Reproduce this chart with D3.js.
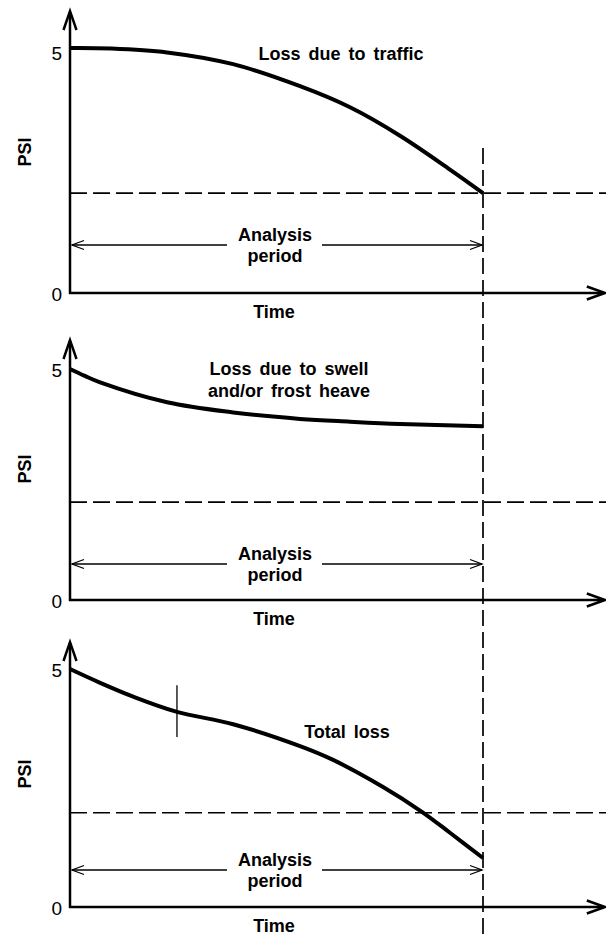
<!DOCTYPE html>
<html>
<head>
<meta charset="utf-8">
<script src="https://cdn.jsdelivr.net/npm/d3@7"></script>
<style>
  html, body { margin: 0; padding: 0; background: #fff; }
  svg text { font-family: "Liberation Sans", Arial, sans-serif; font-weight: bold; font-size: 18px; fill: #000; word-spacing: 3px; }
  svg text.tick { font-weight: normal; font-size: 19px; }
</style>
</head>
<body>
<svg id="chart" width="606" height="936"></svg>
<script>
// ---------------- data ----------------
const yTickValues = [0, 5];
const yTickLabels = ["0", "5"];
const analysisEnd = 10;          // end of analysis period (time units)
const timeAxisEnd = 12.95;       // extent of the time axis

const trafficTime = [0, 1, 2.35, 3.95, 5.57, 6.78, 7.99, 9.2, 10];
const trafficPSI  = [5.0, 4.99, 4.91, 4.67, 4.22, 3.79, 3.21, 2.52, 2.04];

const swellTime = [0, 0.36, 0.73, 2.35, 3.95, 5.57, 6.78, 7.99, 10];
const swellPSI  = [5.0, 4.85, 4.71, 4.28, 4.06, 3.92, 3.86, 3.81, 3.76];

const totalTime = [0, 0.73, 1.53, 2.59, 3.95, 5.57, 6.37, 7.58, 8.52, 9.2, 10];
const totalPSI  = [5.0, 4.71, 4.42, 4.10, 3.84, 3.38, 3.09, 2.52, 2.00, 1.56, 1.03];

const terminalPSI = [2.04, 2.12, 1.98];
const markTime = 2.59;
const markPSI = [4.66, 3.57];

const curveLabels = [["Loss due to traffic"], ["Loss due to swell", "and/or frost heave"], ["Total loss"]];
const axisTitleY = "PSI";
const axisTitleX = "Time";
const periodLabel = ["Analysis", "period"];

// ---------------- layout ----------------
const svg = d3.select("#chart");
const x = d3.scaleLinear().domain([0, analysisEnd]).range([70, 483]);

const panelRanges = [[293, 48], [600, 369], [907, 669]];
const axisTop = [11, 340, 642];
const arrowY = [245, 564, 870];
const psiTitleY = [152, 469, 774];
const fiveOffset = [12, 8, 8];
const labelPos = [[341, 60], [289, 375], [347, 738]];
const series = [[trafficTime, trafficPSI], [swellTime, swellPSI], [totalTime, totalPSI]];

const line = d3.line().x(d => x(d[0])).y(d => d[1]).curve(d3.curveCatmullRom.alpha(0.5));

panelRanges.forEach((rng, i) => {
  const y = d3.scaleLinear().domain([0, 5]).range(rng);
  const g = svg.append("g");
  const x0 = x(0), xEnd = x(timeAxisEnd), yBase = y(0);

  // terminal serviceability dashed line
  g.append("line")
    .attr("x1", x0).attr("x2", 606)
    .attr("y1", y(terminalPSI[i])).attr("y2", y(terminalPSI[i]))
    .attr("stroke", "#000").attr("stroke-width", 1.7)
    .attr("stroke-dasharray", "17,6");

  // axes
  g.append("line").attr("x1", x0).attr("x2", x0).attr("y1", yBase + 1).attr("y2", axisTop[i] + 1)
    .attr("stroke", "#000").attr("stroke-width", 2.5);
  g.append("line").attr("x1", x0 - 1).attr("x2", xEnd - 1).attr("y1", yBase).attr("y2", yBase)
    .attr("stroke", "#000").attr("stroke-width", 2.5);
  // arrowheads
  g.append("path")
    .attr("d", `M${x0 - 6.5},${axisTop[i] + 19} L${x0},${axisTop[i]} L${x0 + 6.5},${axisTop[i] + 19}`)
    .attr("fill", "none").attr("stroke", "#000").attr("stroke-width", 2.5);
  g.append("path")
    .attr("d", `M${xEnd - 18},${yBase - 6.5} L${xEnd},${yBase} L${xEnd - 18},${yBase + 6.5}`)
    .attr("fill", "none").attr("stroke", "#000").attr("stroke-width", 2.5);

  // tick labels
  yTickValues.forEach((v, k) => {
    g.append("text").attr("class", "tick").attr("x", 62).attr("y", y(v) + (v === 5 ? fiveOffset[i] : 8))
      .attr("text-anchor", "end").text(yTickLabels[k]);
  });

  // axis titles
  g.append("text").attr("transform", `translate(31,${psiTitleY[i]}) rotate(-90)`)
    .attr("text-anchor", "middle").text(axisTitleY);
  g.append("text").attr("x", 274).attr("y", yBase + 25)
    .attr("text-anchor", "middle").text(axisTitleX);

  // analysis period arrows
  const ay = arrowY[i];
  g.append("line").attr("x1", x0 + 2).attr("x2", 227).attr("y1", ay).attr("y2", ay)
    .attr("stroke", "#000").attr("stroke-width", 1.3);
  g.append("line").attr("x1", 322).attr("x2", x(analysisEnd) - 1).attr("y1", ay).attr("y2", ay)
    .attr("stroke", "#000").attr("stroke-width", 1.3);
  g.append("path").attr("d", `M${x0 + 14},${ay - 4.5} L${x0 + 2},${ay} L${x0 + 14},${ay + 4.5}`)
    .attr("fill", "none").attr("stroke", "#000").attr("stroke-width", 1.3);
  const xr = x(analysisEnd) - 1;
  g.append("path").attr("d", `M${xr - 12},${ay - 4.5} L${xr},${ay} L${xr - 12},${ay + 4.5}`)
    .attr("fill", "none").attr("stroke", "#000").attr("stroke-width", 1.3);
  g.append("text").attr("x", 275).attr("y", ay - 4).attr("text-anchor", "middle").text(periodLabel[0]);
  g.append("text").attr("x", 275).attr("y", ay + 17).attr("text-anchor", "middle").text(periodLabel[1]);

  // curve
  const [tt, pp] = series[i];
  g.append("path").datum(tt.map((t, k) => [t, y(pp[k])]))
    .attr("d", line).attr("fill", "none").attr("stroke", "#000").attr("stroke-width", 4)
    .attr("stroke-linecap", "butt");

  // curve label
  curveLabels[i].forEach((s, k) => {
    g.append("text").attr("x", labelPos[i][0]).attr("y", labelPos[i][1] + k * 22)
      .attr("text-anchor", "middle").text(s);
  });

  if (i === 2) {
    g.append("line").attr("x1", x(markTime)).attr("x2", x(markTime))
      .attr("y1", y(markPSI[0])).attr("y2", y(markPSI[1]))
      .attr("stroke", "#000").attr("stroke-width", 1.3);
  }
  if (i === 0) {
    // vertical dashed line at end of analysis period, through all panels
    svg.append("line").attr("x1", x(analysisEnd)).attr("x2", x(analysisEnd))
      .attr("y1", y(2.96)).attr("y2", 936)
      .attr("stroke", "#000").attr("stroke-width", 1.7).attr("stroke-dasharray", "16,6");
  }
});
</script>
</body>
</html>
